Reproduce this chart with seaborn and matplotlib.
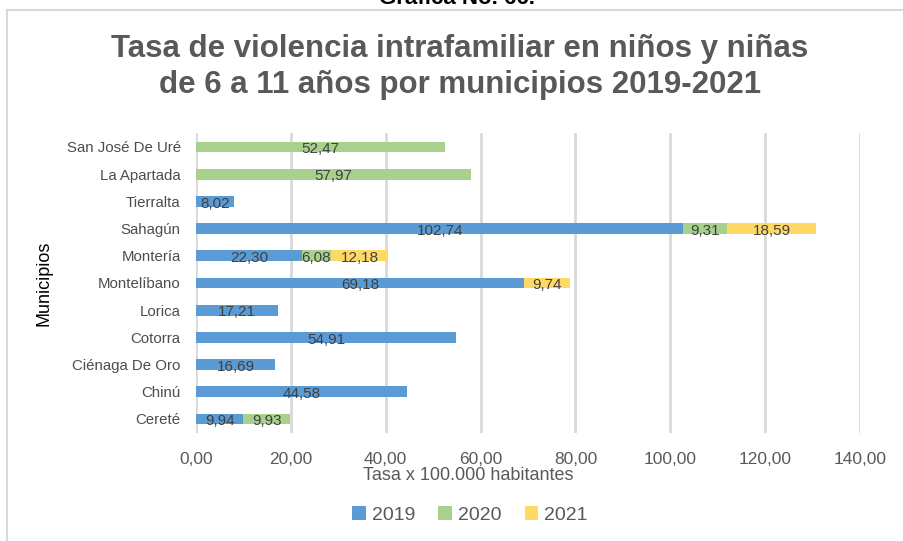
import matplotlib
matplotlib.use("Agg")
import matplotlib.pyplot as plt
import seaborn as sns
import pandas as pd
import numpy as np
from matplotlib.lines import Line2D
from matplotlib.patches import Patch

municipios = ["San José De Uré", "La Apartada", "Tierralta", "Sahagún", "Montería",
              "Montelíbano", "Lorica", "Cotorra", "Ciénaga De Oro", "Chinú", "Cereté"]
v2019 = [0, 0, 8.02, 102.74, 22.30, 69.18, 17.21, 54.91, 16.69, 44.58, 9.94]
v2020 = [52.47, 57.97, 0, 9.31, 6.08, 0, 0, 0, 0, 0, 9.93]
v2021 = [0, 0, 0, 18.59, 12.18, 9.74, 0, 0, 0, 0, 0]
years = ["2019", "2020", "2021"]
colors = ["#5B9BD5", "#A9D18E", "#FFD966"]
xticks = [0, 20, 40, 60, 80, 100, 120, 140]

sns.set_theme(style="white")
plt.rcParams['font.family'] = ['Liberation Sans', 'DejaVu Sans']

df = pd.DataFrame({"Municipio": municipios, "2019": v2019, "2020": v2020, "2021": v2021})
df["c2019"] = df["2019"]
df["c2020"] = df["2019"] + df["2020"]
df["c2021"] = df["c2020"] + df["2021"]

fig = plt.figure(figsize=(9.04, 5.41), dpi=100)
ax = fig.add_axes([196/904, 1 - 432.6/541, 664/904, 299.2/541])

for col, colr in zip(["c2021", "c2020", "c2019"], colors[::-1]):
    sns.barplot(data=df, x=col, y="Municipio", orient="h", color=colr,
                width=0.4, ax=ax, saturation=1, edgecolor="none", linewidth=0, zorder=3)

# data labels
starts = {"2019": np.zeros(len(df)), "2020": df["c2019"].values, "2021": df["c2020"].values}
for yr in years:
    vals = df[yr].values
    for i, v in enumerate(vals):
        if v > 0:
            xc = starts[yr][i] + v / 2
            ax.text(xc, i + 0.08, f"{v:.2f}".replace(".", ","), ha="center", va="center",
                    fontsize=11, color="#404040", zorder=5)

ax.set_xlim(0, 140)
ax.set_ylim(10.5, -0.5)
ax.set_xticks(xticks)
ax.set_xticklabels([f"{t:.2f}".replace(".", ",") for t in xticks], fontsize=12.5, color="#595959")
ax.tick_params(axis="y", labelsize=10.8, labelcolor="#4d4d4d", length=0, pad=11)
ax.tick_params(axis="x", length=0, pad=14)
ax.grid(axis="x", color="#D9D9D9", linewidth=2, zorder=0)
ax.set_axisbelow(True)
for s in ax.spines.values():
    s.set_visible(False)
ax.axvline(0, color="#D9D9D9", linewidth=1.5, zorder=1)

ax.set_xlabel("Tasa x 100.000 habitantes", fontsize=13, color="#595959")
ax.xaxis.set_label_coords((468 - 196) / 664, -0.115)
ax.set_ylabel("Municipios", fontsize=13, color="black")
ax.yaxis.set_label_coords((53 - 196) / 664, 0.5)

fig.text(460/904, 1 - 49/541, "Tasa de violencia intrafamiliar en niños y niñas",
         ha="center", va="center", fontsize=22.5, fontweight="bold", color="#595959")
fig.text(460/904, 1 - 85/541, "de 6 a 11 años por municipios 2019-2021",
         ha="center", va="center", fontsize=22.5, fontweight="bold", color="#595959")
fig.text(457/904, 1 + 1/541, "Gráfica No. 66.", ha="center", va="center",
         fontsize=16, fontweight="bold", color="black")

handles = [Patch(facecolor=c, edgecolor="none") for c in colors]
fig.legend(handles, years, loc="center", bbox_to_anchor=(470/904, 1 - 515/541), ncol=3,
           frameon=False, fontsize=14, handlelength=0.7, handleheight=0.7,
           handletextpad=0.3, columnspacing=1.2, labelcolor="#595959")

fig.add_artist(Line2D([7/904, 7/904], [0, 1 - 10/541], transform=fig.transFigure,
                      color="#D9D9D9", linewidth=1.5))
fig.add_artist(Line2D([7/904, 1], [1 - 10/541, 1 - 10/541], transform=fig.transFigure,
                      color="#D9D9D9", linewidth=1.5))

fig.savefig("out.png", dpi=100, facecolor="white")
